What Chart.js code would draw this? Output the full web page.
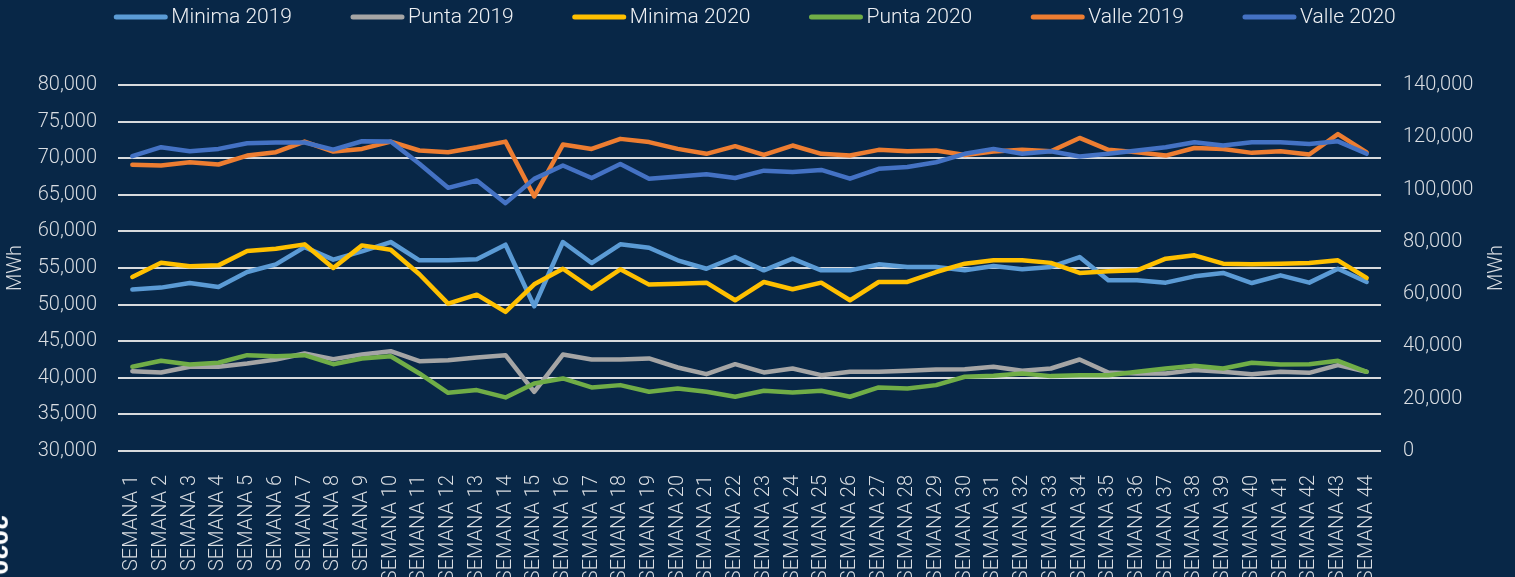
<!DOCTYPE html>
<html>
<head>
<meta charset="utf-8">
<script src="https://cdn.jsdelivr.net/npm/chart.js@4.4.1/dist/chart.umd.min.js"></script>
<style>
  html, body { margin: 0; padding: 0; background: #082747; overflow: hidden; }
  #wrap { position: relative; width: 1515px; height: 577px; }
  #chart { display: block; }
  #edge {
    position: absolute; left: -32px; top: 530px;
    color: #ffffff; font: bold 26px Roboto, sans-serif;
    transform: rotate(90deg); transform-origin: center;
  }
</style>
</head>
<body>
<div id="wrap">
  <canvas id="chart" width="1515" height="600"></canvas>
  <div id="edge">2020</div>
</div>
<script>
'use strict';

let canvasElem = document.getElementById('chart');

// semanas 1..44
let weeks = [];
for (let i = 1; i <= 44; i++) {
  weeks.push('SEMANA ' + i);
}

let seriesNames = ['Minima 2019', 'Punta 2019', 'Minima 2020', 'Punta 2020', 'Valle 2019', 'Valle 2020'];
let seriesColors = ['#5b9bd5', '#a5a5a5', '#ffc000', '#70ad47', '#ed7d31', '#4472c4'];

let minima2019 = [
  52050, 52320, 52950, 52410, 54450, 55500, 57860, 56140, 57270, 58550, 56050, 56050, 56180, 58180, 49770,
  58550, 55680, 58230, 57770, 56050, 54900, 56500, 54680, 56270, 54680, 54680, 55500, 55140, 55140, 54680, 55270, 54820,
  55140, 56500, 53320, 53320, 53000, 53860, 54320, 52950, 54000, 53000, 54900, 53090
];
let punta2019 = [
  40910, 40730, 41500, 41500, 41950, 42500, 43320, 42550, 43180, 43640, 42270, 42410, 42770, 43090, 38090,
  43180, 42500, 42500, 42640, 41410, 40500, 41860, 40730, 41270, 40360, 40820, 40820, 40950, 41140, 41180, 41500, 40950,
  41270, 42500, 40730, 40590, 40590, 41050, 40820, 40500, 40820, 40680, 41730, 40820
];
let minima2020 = [
  53770, 55730, 55230, 55360, 57320, 57640, 58230, 55000, 58090, 57500, 54140, 50140, 51360, 49000, 52770,
  54900, 52180, 54820, 52730, 52860, 53000, 50590, 53090, 52090, 53000, 50590, 53090, 53090, 54450, 55590, 56050, 56050,
  55700, 54320, 54550, 54680, 56270, 56730, 55590, 55500, 55590, 55680, 56050, 53640
];
let punta2020 = [
  41500, 42320, 41820, 42050, 43090, 42950, 43090, 41860, 42640, 42950, 40590, 37950, 38320, 37320, 39230,
  39910, 38680, 39000, 38090, 38550, 38090, 37410, 38230, 38000, 38230, 37410, 38680, 38550, 39000, 40140, 40270, 40590,
  40230, 40360, 40360, 40820, 41270, 41640, 41270, 42050, 41820, 41860, 42320, 40820
];
let valle2019 = [
  69090, 69000, 69450, 69140, 70360, 70820, 72270, 70910, 71270, 72270, 71050, 70820, 71500, 72270, 64770,
  71860, 71270, 72640, 72200, 71270, 70600, 71640, 70450, 71730, 70600, 70360, 71140, 70950, 71050, 70450, 70900, 71140,
  70950, 72770, 71140, 70800, 70360, 71400, 71270, 70730, 70950, 70500, 73300, 70800
];
let valle2020 = [
  70270, 71500, 70950, 71270, 72050, 72140, 72140, 71180, 72320, 72270, 69230, 65950, 66950, 63860, 67180,
  69000, 67300, 69200, 67200, 67500, 67800, 67300, 68300, 68100, 68400, 67200, 68550, 68800, 69450, 70600, 71270, 70600,
  70950, 70230, 70600, 71050, 71500, 72180, 71730, 72180, 72180, 71950, 72300, 70600
];

let allSeries = [minima2019, punta2019, minima2020, punta2020, valle2019, valle2020];

let textColor = '#d9dde2';
let fontFamily = 'Roboto, "Open Sans", sans-serif';

// legend drawn by hand so the spacing matches the original
let topLegend = {
  id: 'topLegend',
  afterDraw(chart) {
    let ctx = chart.ctx;
    let lineW = 55;
    let gap = 3;
    let spacing = 58;
    ctx.save();
    ctx.font = '300 21px ' + fontFamily;
    let widths = seriesNames.map(n => ctx.measureText(n).width);
    let total = 0;
    for (let i = 0; i < widths.length; i++) {
      total += lineW + gap + widths[i];
    }
    total += spacing * (widths.length - 1);
    let x = (chart.width - total) / 2 - 3;
    let y = 17;
    ctx.textBaseline = 'middle';
    ctx.lineCap = 'round';
    for (let i = 0; i < seriesNames.length; i++) {
      ctx.strokeStyle = seriesColors[i];
      ctx.lineWidth = 5;
      ctx.beginPath();
      ctx.moveTo(x + 3, y);
      ctx.lineTo(x + lineW - 3, y);
      ctx.stroke();
      ctx.fillStyle = '#eef0f3';
      ctx.fillText(seriesNames[i], x + lineW + gap, y + 1);
      x += lineW + gap + widths[i] + spacing;
    }
    // right axis title, same direction as the left one
    ctx.font = '300 20px ' + fontFamily;
    ctx.translate(1497, 268);
    ctx.rotate(-Math.PI / 2);
    ctx.textAlign = 'center';
    ctx.fillStyle = textColor;
    ctx.fillText('MWh', 0, 0);
    ctx.restore();
  }
};

function renderChart() {
  let datasets = [];
  for (let i = 0; i < allSeries.length; i++) {
    datasets.push({
      label: seriesNames[i],
      data: allSeries[i],
      borderColor: seriesColors[i],
      backgroundColor: seriesColors[i],
      borderWidth: 4.5,
      borderJoinStyle: 'round',
      borderCapStyle: 'round',
      pointRadius: 0,
      tension: 0,
      yAxisID: 'y',
      order: allSeries.length - i
    });
  }

  let chartObj = {
    type: 'line',
    data: {
      labels: weeks,
      datasets: datasets
    },
    options: {
      responsive: false,
      animation: false,
      layout: {
        padding: { top: 85, left: 0, right: 0, bottom: 0 }
      },
      plugins: {
        legend: { display: false },
        tooltip: { enabled: false }
      },
      scales: {
        x: {
          offset: true,
          grid: { display: false },
          border: { display: false },
          ticks: {
            color: textColor,
            font: { family: fontFamily, size: 20, weight: 300 },
            maxRotation: 90,
            minRotation: 90,
            autoSkip: false,
            padding: 16
          },
          afterFit(scale) { scale.height = 149; }
        },
        y: {
          position: 'left',
          min: 30000,
          max: 80000,
          grid: {
            color: '#d8dadd',
            lineWidth: 2,
            drawTicks: false
          },
          border: { display: false },
          ticks: {
            stepSize: 5000,
            color: textColor,
            font: { family: fontFamily, size: 20, weight: 300 },
            padding: 21,
            callback: v => v.toLocaleString('en-US')
          },
          title: {
            display: true,
            text: 'MWh',
            color: textColor,
            font: { family: fontFamily, size: 20, weight: 300 },
            padding: 4
          },
          afterFit(scale) { scale.width = 118; }
        },
        y2: {
          position: 'right',
          min: 0,
          max: 140000,
          grid: { display: false, drawTicks: false },
          border: { display: false },
          ticks: {
            stepSize: 20000,
            color: textColor,
            font: { family: fontFamily, size: 20, weight: 300 },
            padding: 22,
            callback: v => v.toLocaleString('en-US')
          },
          afterFit(scale) { scale.width = 134; }
        }
      }
    },
    plugins: [topLegend]
  };
  new Chart(canvasElem, chartObj);
}

renderChart();
</script>
</body>
</html>
